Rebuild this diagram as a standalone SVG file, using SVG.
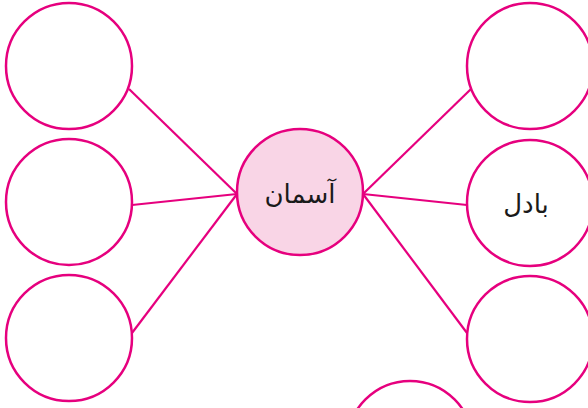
<svg xmlns="http://www.w3.org/2000/svg" width="588" height="408" viewBox="0 0 588 408">
<style>
.n{fill:#ffffff;stroke:#e6007e;stroke-width:2.5}
.c{fill:#f9d5e6;stroke:#e6007e;stroke-width:2.5}
.e{stroke:#e6007e;stroke-width:2.2;fill:none}
.t{font-family:"DejaVu Sans","Liberation Sans",sans-serif;font-size:26px;fill:#1a1a1a;text-anchor:middle;dominant-baseline:central}
</style>
<rect width="588" height="408" fill="#ffffff"/>
<g id="connectors">
<line class="e" x1="129" y1="89" x2="237" y2="194"/>
<line class="e" x1="132" y1="205" x2="237" y2="194"/>
<line class="e" x1="132" y1="333" x2="237" y2="194"/>
<line class="e" x1="471" y1="89" x2="363" y2="194"/>
<line class="e" x1="467" y1="205" x2="363" y2="194"/>
<line class="e" x1="467" y1="333" x2="363" y2="194"/>
</g>
<g id="left1"><circle class="n" cx="69" cy="66" r="63"/></g>
<g id="left2"><circle class="n" cx="69" cy="202" r="63"/></g>
<g id="left3"><circle class="n" cx="69" cy="338" r="63"/></g>
<g id="center"><circle class="c" cx="300" cy="192" r="63"/><text class="t" x="300" y="194">آسمان</text></g>
<g id="right1"><circle class="n" cx="530" cy="66" r="63"/></g>
<g id="right2"><circle class="n" cx="530" cy="203" r="63"/><text class="t" x="526" y="204">بادل</text></g>
<g id="right3"><circle class="n" cx="530" cy="339" r="63"/></g>
<g id="bottom"><circle class="n" cx="410" cy="444" r="63"/></g>
</svg>
